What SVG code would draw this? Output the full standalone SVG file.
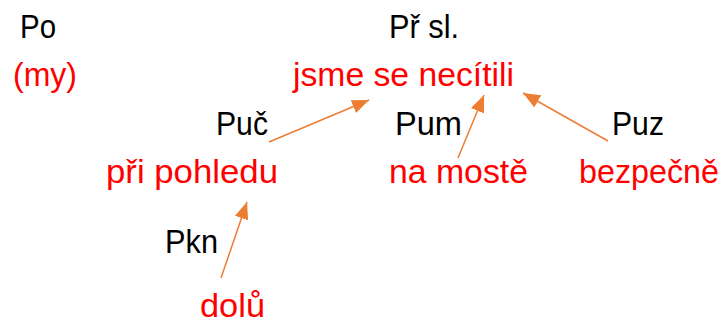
<svg xmlns="http://www.w3.org/2000/svg" width="724" height="324" viewBox="0 0 724 324">
<style>
text{font-family:"Liberation Sans",Arial,sans-serif;font-size:33px}
.k{fill:#000}
.r{fill:#FF0000}
.c{stroke:#ED7D31;stroke-width:1.5;fill:none}
</style>
<defs>
<marker id="ah" viewBox="0 0 17 14" refX="17" refY="7" markerWidth="17" markerHeight="14" markerUnits="userSpaceOnUse" orient="auto">
<path d="M0,0 L17,7 L0,14 z" fill="#ED7D31"/>
</marker>
</defs>
<rect width="724" height="324" fill="#fff"/>
<g id="po"><text class="k" x="20" y="38" textLength="36" lengthAdjust="spacingAndGlyphs">Po</text><text class="r" x="13" y="86" textLength="64" lengthAdjust="spacingAndGlyphs">(my)</text></g>
<g id="prsl"><text class="k" x="389" y="38" textLength="70" lengthAdjust="spacingAndGlyphs">Př sl.</text><text class="r" x="293" y="86" textLength="221" lengthAdjust="spacingAndGlyphs">jsme se necítili</text></g>
<g id="puc"><text class="k" x="216" y="135" textLength="52" lengthAdjust="spacingAndGlyphs">Puč</text><text class="r" x="106" y="183" textLength="172" lengthAdjust="spacingAndGlyphs">při pohledu</text></g>
<g id="pum"><text class="k" x="395" y="135" textLength="67" lengthAdjust="spacingAndGlyphs">Pum</text><text class="r" x="389" y="183" textLength="139" lengthAdjust="spacingAndGlyphs">na mostě</text></g>
<g id="puz"><text class="k" x="612" y="135" textLength="52" lengthAdjust="spacingAndGlyphs">Puz</text><text class="r" x="579" y="183" textLength="140" lengthAdjust="spacingAndGlyphs">bezpečně</text></g>
<g id="pkn"><text class="k" x="165" y="253" textLength="53" lengthAdjust="spacingAndGlyphs">Pkn</text><text class="r" x="200" y="317" textLength="65" lengthAdjust="spacingAndGlyphs">dolů</text></g>
<g id="connectors">
<line class="c" x1="269" y1="142" x2="369" y2="100" marker-end="url(#ah)"/>
<line class="c" x1="458" y1="158" x2="484" y2="95" marker-end="url(#ah)"/>
<line class="c" x1="608" y1="141" x2="523" y2="93" marker-end="url(#ah)"/>
<line class="c" x1="221" y1="278" x2="247" y2="202" marker-end="url(#ah)"/>
</g>
</svg>
